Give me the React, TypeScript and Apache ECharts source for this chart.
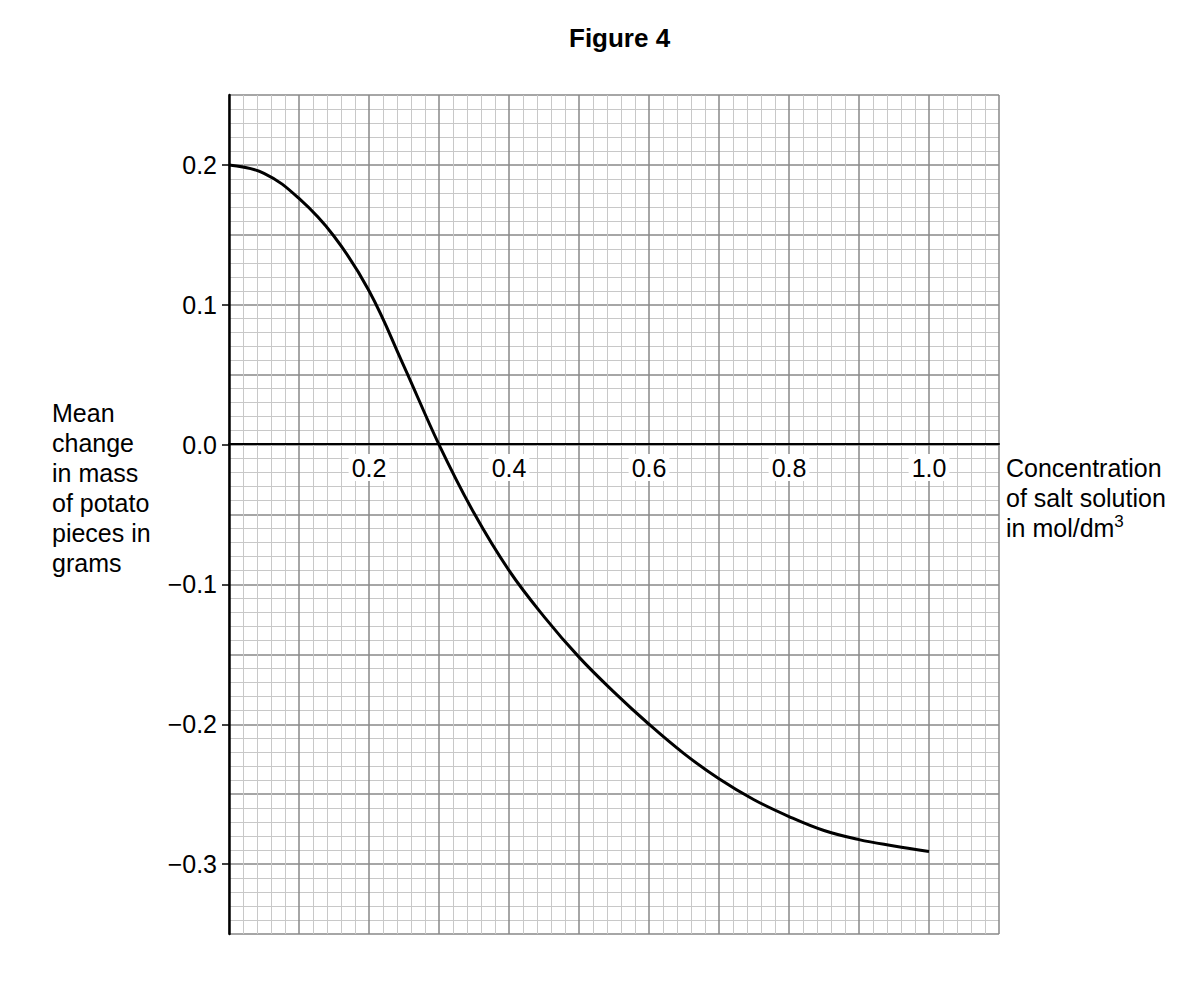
import React, { useEffect, useRef } from "react";
import * as echarts from "echarts";

// Concentration of salt solution (mol/dm3)
const concentration = [0, 0.05, 0.1, 0.15, 0.2, 0.25, 0.3, 0.35, 0.4, 0.45, 0.5, 0.55, 0.6, 0.65, 0.7, 0.75, 0.8, 0.85, 0.9, 0.95, 1.0];
// Mean change in mass of potato pieces (g)
const massChange = [0.2, 0.194, 0.176, 0.149, 0.11, 0.056, 0.0, -0.049, -0.09, -0.123, -0.152, -0.177, -0.2, -0.221, -0.239, -0.254, -0.266, -0.276, -0.2825, -0.287, -0.291];

const xLabelValues = [0.2, 0.4, 0.6, 0.8, 1.0];
const yLabelValues = [-0.3, -0.2, -0.1, 0.0, 0.1, 0.2];
const titleText = "Figure 4";
const yTitleLines = ["Mean", "change", "in mass", "of potato", "pieces in", "grams"];
const xTitleLines = ["Concentration", "of salt solution", "in mol/dm{sup|3}"];

const FONT = '"Liberation Sans", Arial, Helvetica, sans-serif';

function fmtX(v: number): string {
  const r = Math.round(v * 10);
  if (Math.abs(v * 10 - r) > 1e-6) return "";
  const val = r / 10;
  if (!xLabelValues.some((x) => Math.abs(x - val) < 1e-6)) return "";
  return "{b|" + val.toFixed(1) + "}";
}

function fmtY(v: number): string {
  const r = Math.round(v * 100);
  if (r % 10 !== 0) return "";
  const val = r / 100;
  if (!yLabelValues.some((y) => Math.abs(y - val) < 1e-6)) return "";
  return (val < 0 ? "\u2212" : "") + Math.abs(val).toFixed(1);
}

export default function App() {
  const ref = useRef<HTMLDivElement>(null);

  useEffect(() => {
    if (!ref.current) return;
    const chart = echarts.init(ref.current, undefined, { renderer: "svg" });
    const majorLine = { color: "#888888", width: 1.5 };
    const minorLine = { color: "#c8c8c8", width: 1 };
    chart.setOption({
      animation: false,
      backgroundColor: "#fff",
      title: {
        text: titleText,
        left: 564,
        top: 20,
        textStyle: { fontFamily: FONT, fontSize: 26, fontWeight: "bold", color: "#000" },
      },
      grid: { left: 229, top: 95, right: 201, bottom: 66, containLabel: false, outerBoundsMode: "none" },
      xAxis: {
        type: "value",
        min: 0,
        max: 1.1,
        interval: 0.1,
        position: "bottom",
        offset: -490,
        axisLine: { show: true, onZero: false, lineStyle: { color: "#000", width: 2 } },
        axisTick: { show: false },
        axisLabel: {
          formatter: fmtX,
          margin: 10,
          rich: {
            b: {
              fontFamily: FONT,
              fontSize: 25,
              color: "#000",
              backgroundColor: "#fff",
              padding: [1, 3],
            },
          },
        },
        splitLine: { show: true, lineStyle: majorLine },
        minorTick: { show: false, splitNumber: 5 },
        minorSplitLine: { show: true, lineStyle: minorLine },
      },
      yAxis: [
        {
          type: "value",
          min: -0.35,
          max: 0.25,
          interval: 0.05,
          position: "left",
          axisLine: { show: false },
          axisTick: { show: false },
          axisLabel: { show: false },
          splitLine: { show: true, lineStyle: majorLine },
          minorTick: { show: false, splitNumber: 5 },
          minorSplitLine: { show: true, lineStyle: minorLine },
        },
        {
          type: "value",
          min: -0.35,
          max: 0.25,
          interval: 0.05,
          position: "left",
          axisLine: { show: true, onZero: false, lineStyle: { color: "#000", width: 2.5 } },
          axisTick: { show: true, length: 7, customValues: yLabelValues, lineStyle: { color: "#000", width: 1.5 } },
          axisLabel: {
            customValues: yLabelValues,
            formatter: fmtY,
            margin: 12,
            fontFamily: FONT,
            fontSize: 25,
            color: "#000",
          },
          splitLine: { show: false },
        },
      ],
      graphic: [
        {
          type: "text",
          left: 52,
          top: 398,
          style: {
            text: yTitleLines.join("\n"),
            fontFamily: FONT,
            fontSize: 25,
            lineHeight: 30,
            fill: "#000",
          },
        },
        {
          type: "text",
          left: 1006,
          top: 453,
          style: {
            text: xTitleLines.join("\n"),
            fontFamily: FONT,
            fontSize: 25,
            lineHeight: 30,
            fill: "#000",
            rich: {
              sup: { fontFamily: FONT, fontSize: 17, lineHeight: 26, verticalAlign: "top", fill: "#000" },
            },
          },
        },
      ],
      series: [
        {
          type: "line",
          xAxisIndex: 0,
          yAxisIndex: 0,
          data: concentration.map((x, i) => [x, massChange[i]]),
          smooth: 0.4,
          symbol: "none",
          showSymbol: false,
          lineStyle: { color: "#000", width: 3 },
          z: 5,
        },
      ],
    });
    return () => chart.dispose();
  }, []);

  return (
    <div
      ref={ref}
      style={{ position: "absolute", left: 0, top: 0, width: 1200, height: 1000 }}
    />
  );
}
